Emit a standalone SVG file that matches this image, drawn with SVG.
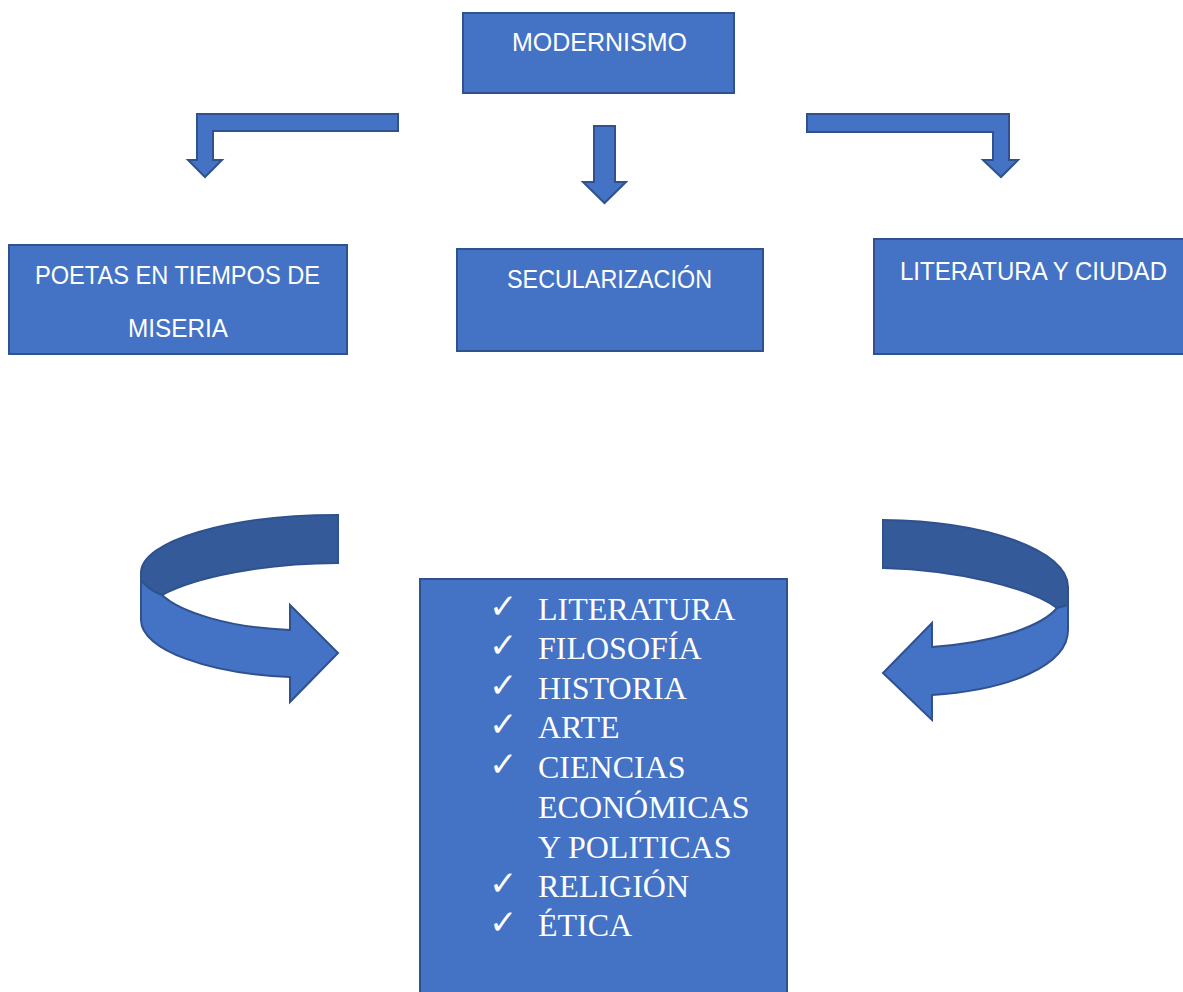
<svg xmlns="http://www.w3.org/2000/svg" width="1183" height="992" viewBox="0 0 1183 992">
<style>
.box{fill:#4472C4;stroke:#2F528F;stroke-width:2}
.arr{fill:#4472C4;stroke:#2F528F;stroke-width:2;stroke-linejoin:miter}
.dark{fill:#345A9A;stroke:#2F528F;stroke-width:2}
.lbl{font-family:"Liberation Sans",Arial,sans-serif;font-size:25px;fill:#FFFFFF}
.lst{font-family:"Liberation Serif","Times New Roman",serif;font-size:32px;fill:#FFFFFF}
.chk{font-family:"DejaVu Sans",sans-serif;font-size:34px;fill:#FFFFFF}
</style>
<rect x="0" y="0" width="1183" height="992" fill="#FFFFFF"/>
<g id="connectors">
<path class="arr" d="M398,114 L197,114 L197,160 L188,160 L205,177 L222,160 L213,160 L213,131 L398,131 Z"/>
<path class="arr" d="M594,126 L615,126 L615,182 L626,182 L604.5,203 L583,182 L594,182 Z"/>
<path class="arr" d="M807,114 L1009,114 L1009,160 L1018,160 L1001,177 L983,160 L993,160 L993,132 L807,132 Z"/>
<g id="curve-left">
<path class="dark" d="M338,515 C229,515 141,541 141,573 L141,580 Q148,590 162,595 C195,577 265,563 338,563 Z"/>
<path class="arr" d="M162,595 Q148,590 141,580 L141,620 C141,650 210,674 290,677 L290,702 L338,653 L290,605 L290,630 C230,628 180,612 162,595 Z"/>
</g>
<g id="curve-right">
<path class="dark" d="M883,520 C985,521 1068,550 1068,587 L1068,605 L1057,608 C1030,588 960,570 883,568 Z"/>
<path class="arr" d="M1057,608 L1068,605 L1068,630 C1068,665 1010,690 932,695 L932,720 L883,673 L932,623 L932,647 C990,643 1040,628 1057,608 Z"/>
</g>
</g>
<g id="modernismo">
<rect class="box" x="463" y="13" width="271" height="80"/>
<text class="lbl" x="512" y="51" textLength="175" lengthAdjust="spacingAndGlyphs">MODERNISMO</text>
</g>
<g id="poetas">
<rect class="box" x="9" y="245" width="338" height="109"/>
<text class="lbl" x="35" y="284" textLength="285" lengthAdjust="spacingAndGlyphs">POETAS EN TIEMPOS DE</text>
<text class="lbl" x="128" y="337" textLength="100" lengthAdjust="spacingAndGlyphs">MISERIA</text>
</g>
<g id="secularizacion">
<rect class="box" x="457" y="249" width="306" height="102"/>
<text class="lbl" x="507" y="288" textLength="205" lengthAdjust="spacingAndGlyphs">SECULARIZACIÓN</text>
</g>
<g id="literatura-ciudad">
<rect class="box" x="874" y="239" width="320" height="115"/>
<text class="lbl" x="900" y="280" textLength="267" lengthAdjust="spacingAndGlyphs">LITERATURA Y CIUDAD</text>
</g>
<g id="lista">
<rect class="box" x="420" y="579" width="367" height="425"/>
<text class="chk" x="489" y="618">✓</text>
<text class="lst" x="538" y="620">LITERATURA</text>
<text class="chk" x="489" y="657">✓</text>
<text class="lst" x="538" y="659">FILOSOFÍA</text>
<text class="chk" x="489" y="697">✓</text>
<text class="lst" x="538" y="699">HISTORIA</text>
<text class="chk" x="489" y="736">✓</text>
<text class="lst" x="538" y="738">ARTE</text>
<text class="chk" x="489" y="776">✓</text>
<text class="lst" x="538" y="778">CIENCIAS</text>
<text class="lst" x="538" y="818">ECONÓMICAS</text>
<text class="lst" x="538" y="858">Y POLITICAS</text>
<text class="chk" x="489" y="895">✓</text>
<text class="lst" x="538" y="897">RELIGIÓN</text>
<text class="chk" x="489" y="934">✓</text>
<text class="lst" x="538" y="936">ÉTICA</text>
</g>
</svg>
